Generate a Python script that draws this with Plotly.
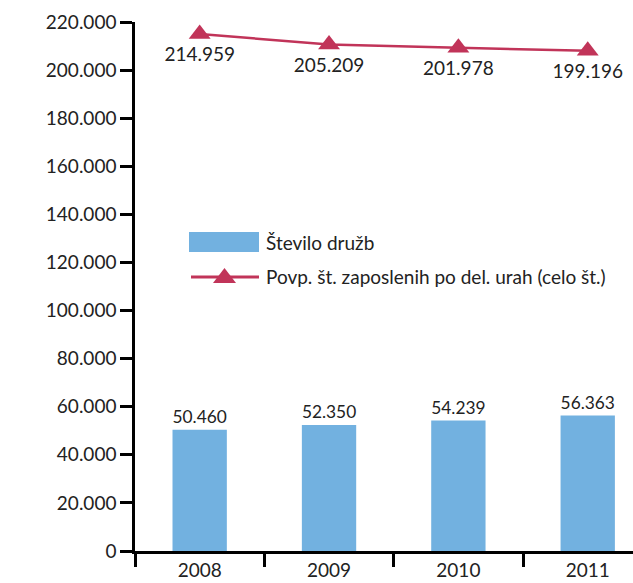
import plotly.graph_objects as go

years = ["2008", "2009", "2010", "2011"]
stevilo_druzb = [50460, 52350, 54239, 56363]
zaposleni = [214959, 205209, 201978, 199196]
y_ticks = [0, 20000, 40000, 60000, 80000, 100000, 120000, 140000, 160000, 180000, 200000, 220000]
legend_labels = ["Število družb", "Povp. št. zaposlenih po del. urah (celo št.)"]

BLUE = "#72B1E0"
RED = "#C13459"
TXT = "#222222"
FONT = "Lato"
FS = 19

W, H = 633, 583
ML, MR, MT, MB = 135, 0, 22, 32
PW, PH = W - ML - MR, H - MT - MB

def px(x):
    return (x - ML) / PW

def py(y):
    return (H - MB - y) / PH

fig = go.Figure()
fig.add_trace(go.Bar(
    x=years, y=stevilo_druzb, name=legend_labels[0],
    marker=dict(color=BLUE, line=dict(width=0)), width=0.42,
    texttemplate="%{y:,}", textposition="outside",
    textfont=dict(size=FS, color=TXT, family=FONT), cliponaxis=False,
    showlegend=False,
))
fig.add_trace(go.Scatter(
    x=years, y=zaposleni, name=legend_labels[1], mode="lines+markers+text",
    yaxis="y2",
    line=dict(color=RED, width=2.5),
    marker=dict(symbol="triangle-up", size=19, color=RED),
    texttemplate="%{y:,}", textposition="bottom center",
    textfont=dict(size=FS, color=TXT, family=FONT), cliponaxis=False,
    showlegend=False,
))

# manual legend
shapes = [
    dict(type="rect", xref="paper", yref="paper",
         x0=px(189), x1=px(259), y0=py(252), y1=py(232),
         fillcolor=BLUE, line=dict(width=0)),
    dict(type="line", xref="paper", yref="paper",
         x0=px(191), x1=px(259), y0=py(277), y1=py(277),
         line=dict(color=RED, width=3)),
    dict(type="path", xref="paper", yref="paper",
         path=f"M {px(213)} {py(283)} L {px(236)} {py(283)} L {px(224.5)} {py(268)} Z",
         fillcolor=RED, line=dict(width=0)),
]
annotations = [
    dict(xref="paper", yref="paper", x=px(264), y=py(242), text=legend_labels[0],
         showarrow=False, xanchor="left", yanchor="middle",
         font=dict(size=FS, color=TXT, family=FONT)),
    dict(xref="paper", yref="paper", x=px(264), y=py(276), text=legend_labels[1],
         showarrow=False, xanchor="left", yanchor="middle",
         font=dict(size=FS, color=TXT, family=FONT)),
]

fig.update_layout(
    width=W, height=H, margin=dict(l=ML, r=MR, t=MT, b=MB, autoexpand=False),
    plot_bgcolor="white", paper_bgcolor="white",
    separators=",.", showlegend=False,
    font=dict(family=FONT, size=FS, color=TXT),
    shapes=shapes, annotations=annotations,
    xaxis=dict(type="category", range=[-0.5, 3.35], showline=True, linecolor="black",
               linewidth=2.5, ticks="outside", tickson="boundaries", ticklen=13,
               tickwidth=2.5, tickcolor="black", showgrid=False, zeroline=False,
               automargin=False, ticklabelstandoff=0,
               tickfont=dict(size=FS, color=TXT)),
    yaxis=dict(range=[0, 220000], tickvals=y_ticks, tickformat=",", showline=True,
               linecolor="black", linewidth=2.5, ticks="outside", ticklen=12,
               tickwidth=2.5, tickcolor="black", showgrid=False, zeroline=False,
               automargin=False, tickfont=dict(size=FS, color=TXT)),
    yaxis2=dict(overlaying="y", side="right", range=[-271200, 226300], visible=False,
                showgrid=False, zeroline=False),
)

fig.write_html("out.html", config={"displayModeBar": False},
               post_script="document.body.style.margin='0';document.body.style.overflow='hidden';")
